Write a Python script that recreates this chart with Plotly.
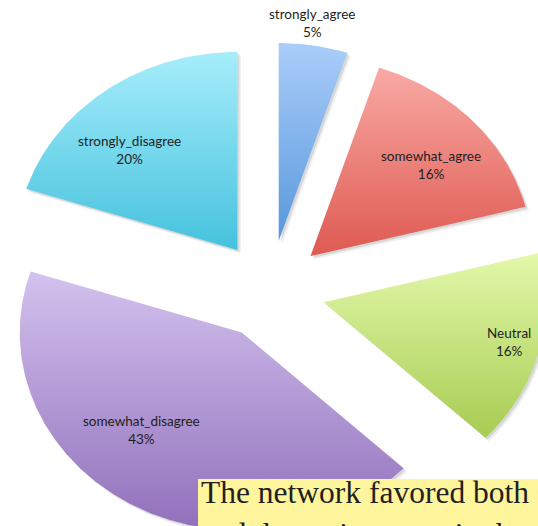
import numpy as np
import plotly.graph_objects as go

# Survey answers, listed clockwise from 12 o'clock
categories = ["strongly_agree", "somewhat_agree", "Neutral",
              "somewhat_disagree", "strongly_disagree"]
shares = [5, 16, 16, 43, 20]

# Vertical gradient for each slice: lighter on top, deeper at the bottom
top_colors = ["#aacdfa", "#f9a9a4", "#e3f8aa", "#d3c2ee", "#a6edfb"]
bottom_colors = ["#5898dc", "#de5a51", "#a7cc52", "#9170bb", "#45c2dd"]

# Canvas and pie geometry (pixels)
W, H = 538, 526
CX, CY = 270, 290          # pie centre
RX, RY = 222, 198          # horizontal / vertical radius (slightly stretched)
PULL = 0.25                # explode distance as a fraction of the radius

# Where each label sits: distance from the slice tip and angular nudge
label_r = [1.11, 0.71, 0.86, 0.67, 0.70]
label_shift = [-1, 3, -1, 12, -8]

fig = go.Figure()
total = float(sum(shares))
start = 0.0
for name, v, ctop, cbot, lr, ls in zip(categories, shares, top_colors,
                                        bottom_colors, label_r, label_shift):
    span = 360.0 * v / total
    a0, a1 = start, start + span
    mid = np.radians((a0 + a1) / 2)
    ox, oy = PULL * np.sin(mid), PULL * np.cos(mid)
    t = np.radians(np.linspace(a0, a1, max(12, int(span * 2))))
    xs = np.concatenate([[ox], ox + np.sin(t), [ox]])
    ys = np.concatenate([[oy], oy + np.cos(t), [oy]])

    # soft drop shadow toward the lower right
    for dpx, alpha in [(3.5, 0.06), (2.0, 0.10)]:
        fig.add_trace(go.Scatter(
            x=xs + dpx / RX, y=ys - dpx / RY, mode="lines", fill="toself",
            fillcolor=f"rgba(0,0,0,{alpha})", line=dict(width=0),
            hoverinfo="skip", showlegend=False))

    fig.add_trace(go.Scatter(
        x=xs, y=ys, mode="lines", fill="toself",
        fillgradient=dict(type="vertical",
                          colorscale=[[0, cbot], [1, ctop]]),
        line=dict(width=0), name=name, showlegend=False,
        hovertemplate=f"{name}: {v}%<extra></extra>"))

    phi = np.radians((a0 + a1) / 2 + ls)
    fig.add_annotation(
        x=ox + lr * np.sin(phi), y=oy + lr * np.cos(phi),
        text=f"{name}<br>{v}%", showarrow=False,
        font=dict(family="Lato", size=13.5, color="#1e1e1e"))
    start = a1

# Yellow caption box in the lower right corner
fig.add_shape(type="rect", xref="paper", yref="paper",
              x0=198 / W, x1=1.05, y0=-0.1, y1=1 - 479 / H,
              fillcolor="#fef59c", line=dict(width=0), layer="above")
caption_lines = ["The network favored both sides of the",
                 "and the main actors in the debate"]
for i, line in enumerate(caption_lines):
    fig.add_annotation(
        xref="paper", yref="paper", x=199 / W, y=1 - (492 + 42 * i) / H,
        xanchor="left", yanchor="middle", text=line, showarrow=False,
        font=dict(family="Liberation Serif", size=31.5, color="#231f20"))

fig.update_layout(
    width=W, height=H, margin=dict(l=0, r=0, t=0, b=0),
    paper_bgcolor="white", plot_bgcolor="white",
    xaxis=dict(range=[-CX / RX, (W - CX) / RX], visible=False, fixedrange=True),
    yaxis=dict(range=[-(H - CY) / RY, CY / RY], visible=False, fixedrange=True),
    showlegend=False,
)

fig.write_html("out.html")
